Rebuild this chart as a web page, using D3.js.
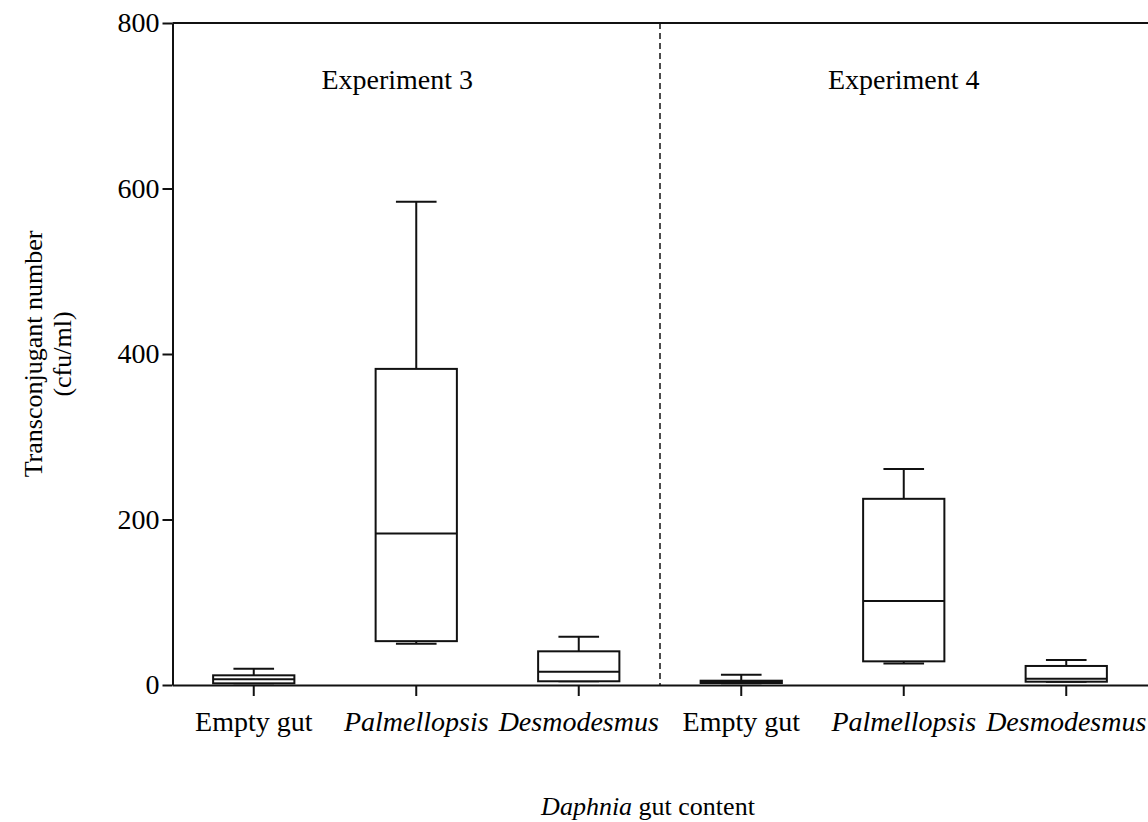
<!DOCTYPE html>
<html>
<head>
<meta charset="utf-8">
<script src="https://cdn.jsdelivr.net/npm/d3@7"></script>
<style>
  body { margin: 0; background: #fff; }
  text { font-family: "Liberation Serif", "Times New Roman", serif; }
</style>
</head>
<body>
<div id="chart"></div>
<script>
// data (cfu/ml)
var experiments = ["Experiment 3", "Experiment 4"];
var groups = ["Empty gut", "Palmellopsis", "Desmodesmus"];
var italicGroups = ["Palmellopsis", "Desmodesmus"];
var wMin = [2, 50, 4.5, 2, 26, 4];
var q1 = [2, 53, 4.5, 2.4, 28.6, 4];
var median = [7, 183, 16, 3.6, 101.5, 7.6];
var q3 = [11.7, 382, 40.7, 5.2, 225, 23];
var wMax = [19.7, 584, 58.4, 12.5, 261, 30.2];
var yTicks = [0, 200, 400, 600, 800];

var width = 1148, height = 822;
var svg = d3.select("#chart").append("svg")
  .attr("width", width)
  .attr("height", height);

// keys must be unique per band
var keys = [];
experiments.forEach(function(e){
  groups.forEach(function(g){ keys.push(e + "|" + g); });
});

var sumstat = keys.map(function(k, i){
  return {key: k, min: wMin[i], q1: q1[i], median: median[i], q3: q3[i], max: wMax[i]};
});

var x = d3.scaleBand()
  .domain(keys)
  .range([172.5, 1147.5]);

var y = d3.scaleLinear()
  .domain([0, 800])
  .range([685, 23]);

// y axis
var yAxis = svg.append("g")
  .attr("transform", "translate(172.5,0)")
  .call(d3.axisLeft(y).tickValues(yTicks).tickSize(10).tickSizeOuter(0).tickPadding(3));
yAxis.selectAll("path, line").attr("stroke", "#111").attr("stroke-width", 2);
yAxis.selectAll("text").style("font-size", "28px").attr("fill", "#000");

// x axis
var xAxis = svg.append("g")
  .attr("transform", "translate(0,685)")
  .call(d3.axisBottom(x).tickSize(11).tickSizeOuter(0).tickPadding(15)
    .tickFormat(function(d){ return d.split("|")[1]; }));
xAxis.selectAll("path, line").attr("stroke", "#111").attr("stroke-width", 2);
xAxis.selectAll("text")
  .style("font-size", "28px")
  .attr("fill", "#000")
  .style("font-style", function(d){
    return italicGroups.indexOf(d.split("|")[1]) >= 0 ? "italic" : "normal";
  });

// top border
svg.append("line")
  .attr("x1", 172.5).attr("x2", 1148)
  .attr("y1", y(800)).attr("y2", y(800))
  .attr("stroke", "#111").attr("stroke-width", 2);

// dashed separator between experiments
var sepX = x(keys[3]);
svg.append("line")
  .attr("x1", sepX).attr("x2", sepX)
  .attr("y1", y(800)).attr("y2", y(0))
  .attr("stroke", "#111").attr("stroke-width", 1.5)
  .attr("stroke-dasharray", "6,4");

// experiment titles
experiments.forEach(function(e){
  var cx = x(e + "|" + groups[1]) + x.bandwidth() / 2;
  svg.append("text")
    .attr("x", e === experiments[0] ? cx - 19 : cx)
    .attr("y", 89)
    .attr("text-anchor", "middle")
    .style("font-size", "28px")
    .text(e);
});

var boxWidth = x.bandwidth() / 2;
var capWidth = x.bandwidth() / 4;
var cxOf = function(d){ return x(d.key) + x.bandwidth() / 2; };

// whiskers
svg.selectAll("vertLines")
  .data(sumstat)
  .enter()
  .append("line")
    .attr("x1", cxOf).attr("x2", cxOf)
    .attr("y1", function(d){ return y(d.min); })
    .attr("y2", function(d){ return y(d.max); })
    .attr("stroke", "#111").attr("stroke-width", 2);

// caps
["min", "max"].forEach(function(f){
  svg.selectAll("caps" + f)
    .data(sumstat)
    .enter()
    .append("line")
      .attr("x1", function(d){ return cxOf(d) - capWidth / 2; })
      .attr("x2", function(d){ return cxOf(d) + capWidth / 2; })
      .attr("y1", function(d){ return y(d[f]); })
      .attr("y2", function(d){ return y(d[f]); })
      .attr("stroke", "#111").attr("stroke-width", 2);
});

// boxes
svg.selectAll("boxes")
  .data(sumstat)
  .enter()
  .append("rect")
    .attr("x", function(d){ return cxOf(d) - boxWidth / 2; })
    .attr("y", function(d){ return y(d.q3); })
    .attr("height", function(d){ return y(d.q1) - y(d.q3); })
    .attr("width", boxWidth)
    .attr("fill", "#fff")
    .attr("stroke", "#111").attr("stroke-width", 2);

// medians
svg.selectAll("medianLines")
  .data(sumstat)
  .enter()
  .append("line")
    .attr("x1", function(d){ return cxOf(d) - boxWidth / 2; })
    .attr("x2", function(d){ return cxOf(d) + boxWidth / 2; })
    .attr("y1", function(d){ return y(d.median); })
    .attr("y2", function(d){ return y(d.median); })
    .attr("stroke", "#111").attr("stroke-width", 2);

// y axis title
var yt = svg.append("text")
  .attr("transform", "translate(42," + ((y(0) + y(800)) / 2) + ") rotate(-90)")
  .attr("text-anchor", "middle")
  .style("font-size", "26px");
yt.append("tspan").attr("x", 0).attr("dy", 0).text("Transconjugant number");
yt.append("tspan").attr("x", 0).attr("dy", "1.1em").text("(cfu/ml)");

// x axis title
var xt = svg.append("text")
  .attr("x", 648)
  .attr("y", 815)
  .attr("text-anchor", "middle")
  .style("font-size", "26px");
xt.append("tspan").style("font-style", "italic").text("Daphnia");
xt.append("tspan").text(" gut content");
</script>
</body>
</html>
